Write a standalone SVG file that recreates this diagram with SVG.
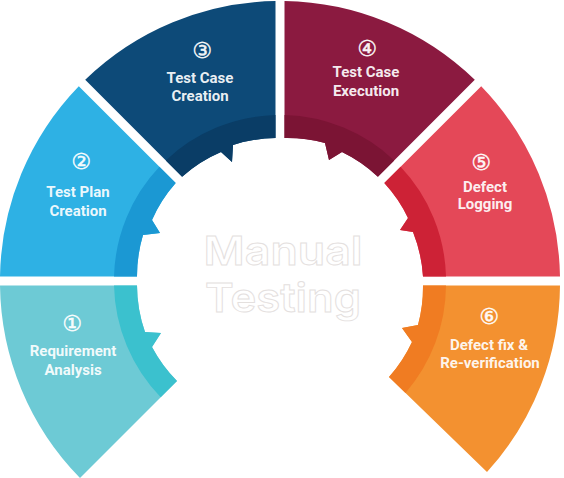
<svg xmlns="http://www.w3.org/2000/svg" width="564" height="478" viewBox="0 0 564 478">
<style>
.lbl{font-family:Roboto,"Liberation Sans",sans-serif;font-weight:700;font-size:15px;fill:#ffffff;fill-opacity:.93;text-anchor:middle}
.num{font-family:"DejaVu Sans","Noto Sans CJK SC",sans-serif;font-size:22px;fill:#ffffff;fill-opacity:.95;stroke:#ffffff;stroke-width:0.4;text-anchor:middle;dominant-baseline:central}
.center{font-family:Inter,Lato,"Open Sans",sans-serif;font-weight:600;font-size:40px;fill:#ffffff;stroke:#e4e0de;stroke-width:0.9;text-anchor:middle}
</style>
<rect width="564" height="478" fill="#ffffff"/>
<g id="step1">
<path fill="#6DCAD5" d="M80,478 A280,280 0 0 1 0,285.5 L137,285.5 A143,143 0 0 0 145,332 L161,333 L152,347 A143,143 0 0 0 177,381 Z"/>
<path fill="#3BC1CE" d="M160.7,397.3 A166,166 0 0 1 114,285.5 L137,285.5 A143,143 0 0 0 145,332 L161,333 L152,347 A143,143 0 0 0 177,381 Z"/>
<text class="num" x="72" y="323">①</text>
<text class="lbl" x="73" y="356">Requirement</text>
<text class="lbl" x="73" y="375">Analysis</text>
</g>
<g id="step2">
<path fill="#2EB1E4" d="M0,276.5 A280,280 0 0 1 78.8,86.2 L175.7,183.1 A143,143 0 0 0 152,220 L160,233 L143,235 A143,143 0 0 0 137,276.5 Z"/>
<path fill="#1B98D3" d="M114,276.5 A166,166 0 0 1 159.4,166.8 L175.7,183.1 A143,143 0 0 0 152,220 L160,233 L143,235 A143,143 0 0 0 137,276.5 Z"/>
<text class="num" x="81" y="161">②</text>
<text class="lbl" x="78" y="197">Test Plan</text>
<text class="lbl" x="78" y="216">Creation</text>
</g>
<g id="step3">
<path fill="#0D4A78" d="M85.2,79.8 A280,280 0 0 1 275.5,1 L275.5,138 A143,143 0 0 0 233,145 L232,162 L221,152 A143,143 0 0 0 182.1,176.7 Z"/>
<path fill="#0A3D66" d="M165.8,160.4 A166,166 0 0 1 275.5,115 L275.5,138 A143,143 0 0 0 233,145 L232,162 L221,152 A143,143 0 0 0 182.1,176.7 Z"/>
<text class="num" x="202" y="50">③</text>
<text class="lbl" x="200" y="83">Test Case</text>
<text class="lbl" x="200" y="101">Creation</text>
</g>
<g id="step4">
<path fill="#8B1A40" d="M284.5,1 A280,280 0 0 1 474.8,79.8 L377.9,176.7 A143,143 0 0 0 342,152 L329,160 L325,143 A143,143 0 0 0 284.5,138 Z"/>
<path fill="#7B1434" d="M284.5,115 A166,166 0 0 1 394.2,160.4 L377.9,176.7 A143,143 0 0 0 342,152 L329,160 L325,143 A143,143 0 0 0 284.5,138 Z"/>
<text class="num" x="367" y="48">④</text>
<text class="lbl" x="366" y="77">Test Case</text>
<text class="lbl" x="366" y="96">Execution</text>
</g>
<g id="step5">
<path fill="#E44858" d="M481.2,86.2 A280,280 0 0 1 560,276.5 L423,276.5 A143,143 0 0 0 413,232 L400,230 L408,218 A143,143 0 0 0 384.3,183.1 Z"/>
<path fill="#CD2236" d="M400.6,166.8 A166,166 0 0 1 446,276.5 L423,276.5 A143,143 0 0 0 413,232 L400,230 L408,218 A143,143 0 0 0 384.3,183.1 Z"/>
<text class="num" x="481" y="162">⑤</text>
<text class="lbl" x="485" y="192">Defect</text>
<text class="lbl" x="485" y="209">Logging</text>
</g>
<g id="step6">
<path fill="#F39130" d="M560,285.5 A280,280 0 0 1 487,472 L389,377 A143,143 0 0 0 412,342 L402,328 L418,325 A143,143 0 0 0 423,285.5 Z"/>
<path fill="#F07C22" d="M446,285.5 A166,166 0 0 1 405.5,393 L389,377 A143,143 0 0 0 412,342 L402,328 L418,325 A143,143 0 0 0 423,285.5 Z"/>
<text class="num" x="489" y="316">⑥</text>
<text class="lbl" x="489" y="350">Defect fix &amp;</text>
<text class="lbl" x="490" y="368">Re-verification</text>
</g>
<g id="title">
<text class="center" x="283" y="265" textLength="159" lengthAdjust="spacingAndGlyphs">Manual</text>
<text class="center" x="283" y="312" textLength="156" lengthAdjust="spacingAndGlyphs">Testing</text>
</g>
</svg>
